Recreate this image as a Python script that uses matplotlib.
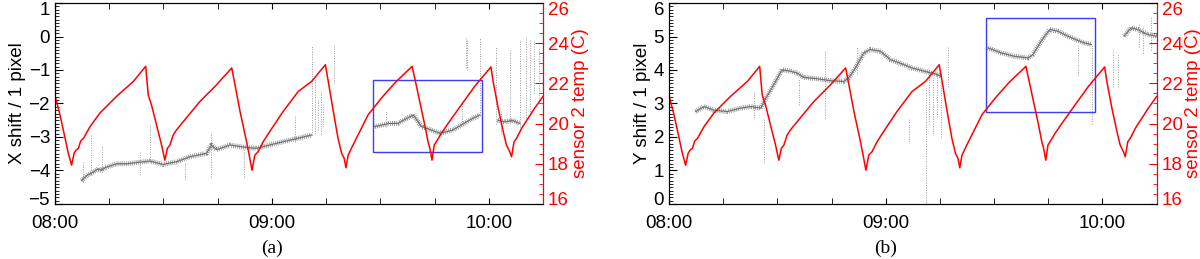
import numpy as np
import matplotlib
matplotlib.use("Agg")
import matplotlib.pyplot as plt
from matplotlib.patches import Rectangle
from matplotlib.transforms import ScaledTranslation

nan = np.nan

# time in minutes after 08:00
tick_pos = [0, 60, 120]
tick_labels = ["08:00", "09:00", "10:00"]

# sensor 2 temperature (same trace in both panels)
temp_min = [0, 1.4, 2.8, 3.7, 4.6, 5.3, 5.8, 6.5, 7.1, 7.9, 9.7, 12.4, 17.0, 21.7, 25.1,
            25.8, 26.7, 28.1, 29.5, 30.4, 31.1, 31.8, 32.7, 33.6, 35.5, 40.1, 44.7, 48.9,
            49.8, 51.2, 53.0, 53.9, 54.5, 55.3, 56.2, 57.6, 59.4, 63.1, 67.3, 71.0, 74.8,
            75.6, 77.0, 78.3, 79.3, 80.0, 80.5, 81.1, 82.0, 82.9, 84.3, 86.6, 90.3, 94.0,
            98.8, 99.5, 100.9, 102.3, 103.2, 103.7, 104.3, 104.9, 105.5, 106.9, 108.8,
            112.4, 116.1, 120.6, 121.2, 122.6, 124.0, 124.9, 125.8, 126.3, 127.0, 127.7,
            129.1, 130.9, 132.7, 135.0]
temp_val = [21.4, 20.43, 19.27, 18.52, 17.93, 18.52, 18.68, 18.77, 19.13, 19.27, 19.85,
            20.52, 21.35, 22.1, 22.85, 21.43, 20.93, 19.93, 18.93, 18.18, 18.77, 18.93,
            19.43, 19.68, 20.1, 21.1, 21.93, 22.77, 21.93, 20.6, 19.1, 18.27, 17.68, 18.43,
            18.6, 19.1, 19.6, 20.6, 21.6, 22.1, 22.93, 22.1, 20.6, 19.27, 18.52, 18.27,
            17.8, 18.43, 18.77, 19.1, 19.6, 20.43, 21.27, 22.02, 22.85, 22.27, 21.1, 19.93,
            19.1, 18.77, 18.18, 18.93, 19.1, 19.52, 20.02, 20.93, 21.85, 22.82, 22.1,
            20.77, 19.6, 18.93, 18.6, 18.35, 19.1, 19.27, 19.77, 20.27, 20.77, 21.35]

# X shift (panel a)
xs_min = [7.4, 8.8, 10.6, 12.0, 12.9, 13.8, 17.0, 20.0, 23.5, 26.3, 29.9, 33.6, 37.3,
          41.9, 43.3, 44.7, 48.4, 52.1, 55.7, 59.4, 63.1, 67.2, 71.0, nan,
          88.5, 92.2, 94.9, 99.1, 101.4, 102.8, 106.5, 110.1, 114.8, 117.5, nan,
          122.5, 124.5, 126.5, 128.6]
xs_val = [-4.3, -4.15, -4.05, -3.95, -4.0, -3.92, -3.8, -3.8, -3.75, -3.72, -3.82,
          -3.74, -3.59, -3.49, -3.24, -3.38, -3.24, -3.3, -3.34, -3.24, -3.14, -3.04,
          -2.94, nan, -2.69, -2.6, -2.59, -2.34, -2.69, -2.74, -2.89, -2.79, -2.49,
          -2.34, nan, -2.5, -2.55, -2.5, -2.6]
# outlier spikes: time, low, high
xs_spike_min = [7.8, 10.1, 12.9, 23.5, 26.3, 35.9, 43.3, 52.3, 66.4, 71.1, 72.0, 72.8,
                73.5, 74.2, 77.2, 91.7, 112.7, 113.6, 114.1, 117.5, 122.1, 123.5, 125.8,
                128.6, 130.4, 131.5, 132.6, 133.8]
xs_spike_lo = [-4.34, -4.14, -4.04, -4.14, -3.74, -4.24, -4.19, -4.19, -3.14, -2.94,
               -2.9, -2.8, -2.9, -2.7, -1.4, -2.7, -2.6, -0.94, -1.0, -2.34, -2.6, -2.9,
               -2.6, -2.7, -2.5, -2.3, -1.7, -2.0]
xs_spike_hi = [-3.74, -2.94, -3.24, -3.44, -2.64, -3.74, -2.89, -3.34, -2.34, -0.24,
               -1.3, -1.9, -1.6, -2.0, -0.24, -2.2, -2.0, -0.04, -0.1, -0.04, -0.3, -2.2,
               -0.4, -0.1, 0.0, -0.1, -0.1, -0.3]

# Y shift (panel b)
ys_min = [7.4, 9.7, 12.4, 16.1, 19.8, 22.6, 25.4, 26.3, 29.0, 31.3, 33.7, 35.5, 37.3,
          41.0, 44.7, 48.4, 49.7, 51.6, 53.9, 55.7, 58.5, 61.3, 65.0, 67.3, 70.8, 74.5,
          75.4, nan, 88.3, 92.0, 95.6, 99.4, 100.7, 103.0, 105.4, 107.6, 110.4, 113.2,
          115.0, 116.9, nan, 126.0, 127.9, 129.7, 132.5, 135.0]
ys_val = [2.76, 2.91, 2.8, 2.76, 2.86, 2.91, 2.86, 3.06, 3.56, 4.01, 3.96, 3.91, 3.78,
          3.74, 3.68, 3.66, 3.76, 4.06, 4.51, 4.61, 4.56, 4.31, 4.16, 4.06, 3.96, 3.86,
          3.8, nan, 4.66, 4.51, 4.41, 4.36, 4.46, 4.86, 5.21, 5.16, 5.01, 4.88, 4.81,
          4.76, nan, 5.01, 5.26, 5.21, 5.06, 5.01]
ys_spike_min = [23.6, 26.2, 35.9, 43.3, 52.1, 66.4, 71.2, 72.0, 73.0, 74.2, 75.2, 77.2,
                113.2, 117.2, 122.8, 124.2, 130.0, 131.2, 133.5]
ys_spike_lo = [2.56, 1.26, 2.96, 2.56, 3.9, 1.86, -0.03, 2.4, 2.1, 2.6, 2.0, 3.5, 3.86,
               2.4, 3.5, 3.5, 4.7, 4.5, 4.6]
ys_spike_hi = [3.36, 2.56, 3.76, 4.56, 4.7, 2.56, 3.46, 4.0, 3.8, 3.9, 3.6, 4.7, 4.76,
               4.76, 4.6, 4.5, 5.4, 5.3, 5.6]

# blue boxes: t0, t1, y0, y1
box_a = [88.0, 118.0, -3.46, -1.31]
box_b = [87.8, 117.9, 2.76, 5.55]

plt.rcParams['font.family'] = ['Liberation Sans', 'DejaVu Sans']
RED = '#ff0000'

fig = plt.figure(figsize=(12, 2.59), dpi=100)


def nudge_end_labels(labels, which_first, which_last):
    # end labels sit just inside the axis, as in the original
    labels[0].set_transform(labels[0].get_transform() + which_first)
    labels[-1].set_transform(labels[-1].get_transform() + which_last)


def panel(rect, t, v, sp_t, sp_lo, sp_hi, box, ylim, ylabel, caption):
    ax = fig.add_axes(rect)
    ax.vlines(sp_t, sp_lo, sp_hi, color='0.6', lw=0.7, linestyles=(0, (1, 1.5)))
    ax.plot(t, v, color='0.5', lw=3.5, linestyle=(0, (0.15, 0.25)))
    ax.plot(t, v, color='0.45', lw=0.9)
    ax.add_patch(Rectangle((box[0], box[2]), box[1] - box[0], box[3] - box[2],
                           fill=False, ec='#3c3cff', lw=1.0, zorder=5))
    ax.set_xlim(0, 135)
    ax.set_ylim(*ylim)
    ax.set_xticks(tick_pos)
    ax.set_xticklabels(tick_labels)
    ax.set_xticks(np.arange(0, 136, 15), minor=True)
    yvals = np.arange(ylim[0], ylim[1] + 1)
    ax.set_yticks(yvals)
    ax.set_yticks(np.arange(ylim[0], ylim[1] + 0.01, 0.1), minor=True)
    ax.tick_params(axis='x', which='both', direction='in', top=True, length=4,
                   labelsize=13.5, pad=8)
    ax.tick_params(axis='y', which='major', direction='in', length=6, labelsize=13.5)
    ax.tick_params(axis='y', which='minor', direction='in', length=3)
    ax.set_ylabel(ylabel, fontsize=13.5, labelpad=2)
    for s in ax.spines.values():
        s.set_linewidth(0.8)

    ax2 = ax.twinx()
    ax2.plot(temp_min, temp_val, color=RED, lw=1.1)
    ax2.set_ylim(16, 26)
    ax2.set_yticks(np.arange(16, 27, 2))
    ax2.set_yticks(np.arange(16, 26.01, 0.5), minor=True)
    ax2.tick_params(axis='y', which='major', direction='in', length=6, color=RED,
                    labelcolor=RED, labelsize=13.5)
    ax2.tick_params(axis='y', which='minor', direction='in', length=3, color=RED)
    ax2.spines['right'].set_color(RED)
    ax2.spines['right'].set_linewidth(0.8)
    ax2.set_ylabel("sensor 2 temp (C)", color=RED, fontsize=13.5, labelpad=2)

    fig.text(rect[0] + rect[2] * 60 / 135, 0.0425, caption, ha='center', va='center',
             family='Liberation Serif', fontsize=14)
    return ax, ax2


axes = [
    panel([0.0458, 0.2124, 0.4067, 0.776], xs_min, xs_val, xs_spike_min, xs_spike_lo,
          xs_spike_hi, box_a, (-5, 1), "X shift / 1 pixel", "(a)"),
    panel([0.5575, 0.2124, 0.4064, 0.776], ys_min, ys_val, ys_spike_min, ys_spike_lo,
          ys_spike_hi, box_b, (0, 6), "Y shift / 1 pixel", "(b)"),
]

fig.canvas.draw()
up = ScaledTranslation(0, 5 / 100, fig.dpi_scale_trans)
down = ScaledTranslation(0, -5 / 100, fig.dpi_scale_trans)
for ax, ax2 in axes:
    for tk in (ax.yaxis.get_major_ticks()[0], ax2.yaxis.get_major_ticks()[0]):
        for lab in (tk.label1, tk.label2):
            lab.set_transform(lab.get_transform() + up)
    for tk in (ax.yaxis.get_major_ticks()[-1], ax2.yaxis.get_major_ticks()[-1]):
        for lab in (tk.label1, tk.label2):
            lab.set_transform(lab.get_transform() + down)

fig.savefig("out.png", dpi=100)
